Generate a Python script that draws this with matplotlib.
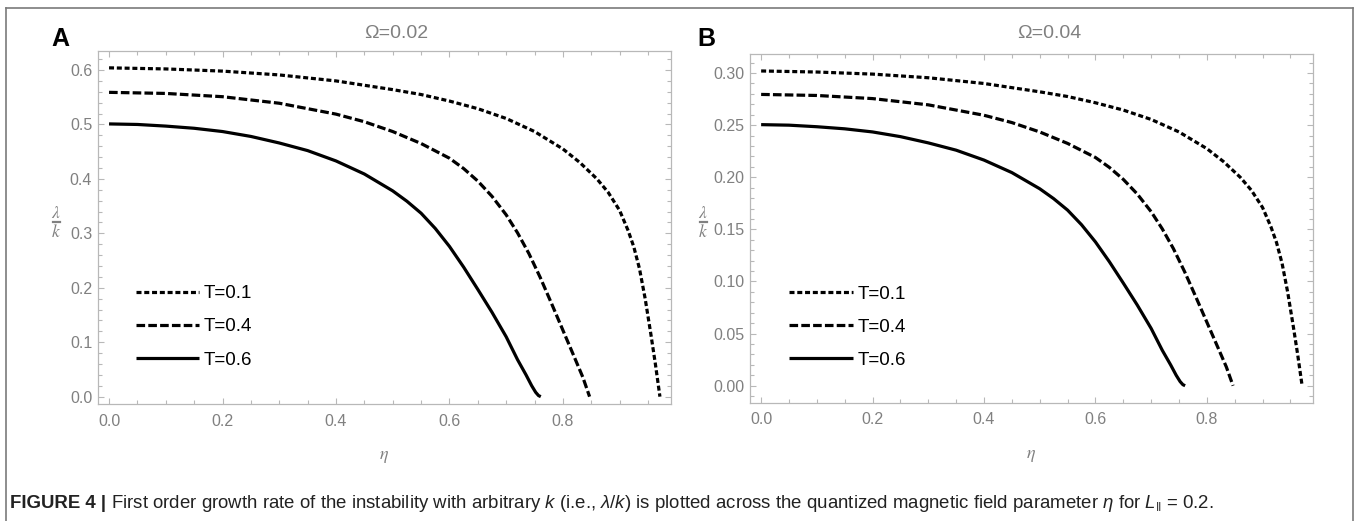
import matplotlib
matplotlib.use("Agg")
import matplotlib.pyplot as plt
from matplotlib.lines import Line2D
from matplotlib.ticker import MultipleLocator, FormatStrFormatter

plt.rcParams['font.family'] = ['Liberation Sans', 'DejaVu Sans']
plt.rcParams['lines.scale_dashes'] = False
plt.rcParams['mathtext.fontset'] = 'custom'
plt.rcParams['mathtext.it'] = 'Liberation Sans:italic'
plt.rcParams['mathtext.rm'] = 'Liberation Sans'

# values, panel A (Omega = 0.02)
eta_t01 = [0, 0.1, 0.2, 0.3, 0.4, 0.5, 0.55, 0.6, 0.65, 0.7, 0.75, 0.8, 0.83, 0.86, 0.88,
           0.9, 0.915, 0.925, 0.935, 0.945, 0.955, 0.963, 0.971]
lam_t01 = [0.604, 0.602, 0.598, 0.591, 0.580, 0.564, 0.555, 0.543, 0.529, 0.511, 0.487, 0.455,
           0.430, 0.400, 0.375, 0.342, 0.305, 0.275, 0.235, 0.180, 0.115, 0.060, 0.0]

eta_t04 = [0, 0.1, 0.2, 0.3, 0.4, 0.45, 0.5, 0.55, 0.6, 0.625, 0.65, 0.675, 0.7, 0.72,
           0.74, 0.76, 0.78, 0.8, 0.82, 0.835, 0.847]
lam_t04 = [0.559, 0.557, 0.551, 0.539, 0.519, 0.505, 0.487, 0.465, 0.438, 0.419, 0.396, 0.368,
           0.334, 0.301, 0.263, 0.219, 0.171, 0.122, 0.073, 0.036, 0.0]

eta_t06 = [0, 0.05, 0.1, 0.15, 0.2, 0.25, 0.3, 0.35, 0.4, 0.45, 0.5, 0.525, 0.55, 0.575,
           0.6, 0.625, 0.65, 0.675, 0.7, 0.72, 0.735, 0.745, 0.752, 0.757, 0.761]
lam_t06 = [0.501, 0.500, 0.497, 0.493, 0.487, 0.478, 0.466, 0.452, 0.433, 0.409, 0.378, 0.359,
           0.337, 0.309, 0.276, 0.238, 0.197, 0.155, 0.110, 0.068, 0.040, 0.020, 0.008, 0.002, 0.0]

# panel B (Omega = 0.04): same curves at about half the height
lamB_t01 = [0.302, 0.301, 0.299, 0.2955, 0.290, 0.282, 0.2775, 0.2715, 0.2645, 0.2555, 0.2435,
            0.2275, 0.215, 0.200, 0.1875, 0.171, 0.1525, 0.1375, 0.1175, 0.090, 0.0575, 0.030, 0.0]
lamB_t04 = [0.2795, 0.2785, 0.2755, 0.2695, 0.2595, 0.2525, 0.2435, 0.2325, 0.219, 0.2095,
            0.198, 0.184, 0.167, 0.1505, 0.1315, 0.1095, 0.0855, 0.061, 0.0365, 0.018, 0.0]
lamB_t06 = [0.2505, 0.250, 0.2485, 0.2465, 0.2435, 0.239, 0.233, 0.226, 0.2165, 0.2045, 0.189,
            0.1795, 0.1685, 0.1545, 0.138, 0.119, 0.0985, 0.0775, 0.055, 0.034, 0.020, 0.010,
            0.004, 0.001, 0.0]

labels = ['T=0.1', 'T=0.4', 'T=0.6']
titles = ['\u03a9=0.02', '\u03a9=0.04']
letters = ['A', 'B']

gray = '#808080'
spine = '#b8b8b8'
styles = [(0, (3.6, 2.0)), (0, (6.2, 2.3)), '-']

fig = plt.figure(figsize=(13.54, 5.21), dpi=100)
W, H = 1354.0, 521.0

def box(l, t, r, b):
    return [l / W, 1 - b / H, (r - l) / W, (b - t) / H]

axA = fig.add_axes(box(97.7, 50.7, 670.7, 404))
axB = fig.add_axes(box(750, 54.3, 1312.7, 402.7))

panels = [
    (axA, [lam_t01, lam_t04, lam_t06], (-0.0135, 0.6355), 0.1, 0.02, '%.1f', 396, 56),
    (axB, [lamB_t01, lamB_t04, lamB_t06], (-0.0163, 0.318), 0.05, 0.01, '%.2f', 1049, 703),
]
etas = [eta_t01, eta_t04, eta_t06]

for i, (ax, series, ylim, ymaj, ymin, fmt, tx, lx) in enumerate(panels):
    for eta, lam, ls, lab in zip(etas, series, styles, labels):
        ax.plot(eta, lam, color='black', lw=2.3, linestyle=ls, label=lab,
                dash_capstyle='butt', solid_capstyle='butt')
    ax.set_xlim(-0.02, 0.99)
    ax.set_ylim(*ylim)
    ax.xaxis.set_major_locator(MultipleLocator(0.2))
    ax.xaxis.set_minor_locator(MultipleLocator(0.05))
    ax.xaxis.set_major_formatter(FormatStrFormatter('%.1f'))
    ax.yaxis.set_major_locator(MultipleLocator(ymaj))
    ax.yaxis.set_minor_locator(MultipleLocator(ymin))
    ax.yaxis.set_major_formatter(FormatStrFormatter(fmt))
    for s in ax.spines.values():
        s.set_color(spine)
        s.set_linewidth(0.9)
    ax.tick_params(which='both', direction='in', top=True, right=True,
                   color=spine, width=0.8, labelcolor=gray, labelsize=11.5)
    ax.tick_params(which='major', length=4.5)
    ax.tick_params(which='minor', length=2.6)
    ax.tick_params(axis='x', pad=7)
    ax.tick_params(axis='y', pad=4)

    fig.text(tx / W, 1 - 33 / H, titles[i], color=gray, fontsize=14,
             ha='center', va='center')
    ax.set_xlabel(r'$\eta$', color=gray, fontsize=13, labelpad=14,
                  math_fontfamily='stix')

    # y label drawn as a stacked fraction: lambda over k
    fig.text(lx / W, 1 - 213 / H, r'$\lambda$', color=gray, fontsize=12.5,
             ha='center', va='center', math_fontfamily='stix')
    fig.add_artist(Line2D([(lx - 3.5) / W, (lx + 3.5) / W], [1 - 222 / H, 1 - 222 / H],
                          color=gray, lw=1.6))
    fig.text(lx / W, 1 - 232 / H, r'$k$', color=gray, fontsize=12.5,
             ha='center', va='center', math_fontfamily='stix')

    ax.legend(loc='upper left', bbox_to_anchor=(0.066 if i == 0 else 0.069, 0.336),
              frameon=False, fontsize=13.5, handlelength=3.4,
              handletextpad=0.25, labelspacing=0.85, borderpad=0,
              borderaxespad=0)

fig.text(51 / W, 1 - 46 / H, letters[0], fontsize=18, fontweight='bold',
         ha='left', va='baseline')
fig.text(697 / W, 1 - 46 / H, letters[1], fontsize=18, fontweight='bold',
         ha='left', va='baseline')

# frame round the figure
frame = '#7a7a7a'
fig.add_artist(Line2D([6 / W, 1352.7 / W], [1 - 8 / H, 1 - 8 / H], color=frame, lw=1.2))
fig.add_artist(Line2D([6 / W, 6 / W], [0, 1 - 8 / H], color=frame, lw=1.2))
fig.add_artist(Line2D([1352.7 / W, 1352.7 / W], [0, 1 - 8 / H], color=frame, lw=1.2))

# caption
capy = 1 - 504 / H
t1 = fig.text(10 / W, capy, 'FIGURE 4 |', fontsize=13.4, fontweight='bold',
              va='center', ha='left', color='#222222')
fig.canvas.draw()
ext = t1.get_window_extent()
fig.text(ext.x1 / W + 5 / W, capy,
         r'First order growth rate of the instability with arbitrary $k$ (i.e., $\lambda/k$) '
         r'is plotted across the quantized magnetic field parameter $\eta$ for $L_{\|}$ = 0.2.',
         fontsize=13.4, va='center', ha='left', color='#222222')

fig.savefig('out.png', dpi=100)
